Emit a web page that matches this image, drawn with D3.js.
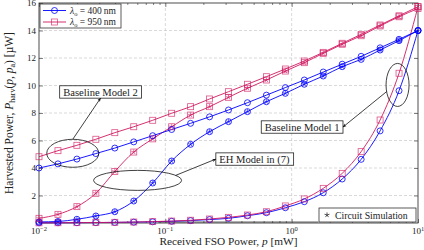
<!DOCTYPE html>
<html>
<head>
<meta charset="utf-8">
<script src="https://cdn.jsdelivr.net/npm/d3@7"></script>
<style>
body { margin: 0; background: #fff; }
svg text { font-family: "Liberation Serif", "DejaVu Serif", serif; fill: #222; }
</style>
</head>
<body>
<svg id="chart" width="424" height="250"></svg>
<script>
// received power p [mW], sampled on the log grid used by the figure
var pValues = [0.01, 0.01413, 0.01995, 0.02818, 0.03981, 0.05623, 0.07943, 0.1122, 0.1585, 0.2239,
               0.3162, 0.4467, 0.631, 0.8913, 1.259, 1.778, 2.512, 3.548, 5.012, 7.079, 10];

// Baseline Model 2
var bm2Blue = [4.0, 4.3, 4.65, 5.05, 5.45, 5.9, 6.35, 6.8, 7.25, 7.72, 8.22, 8.75, 9.3, 9.85, 10.4, 10.98, 11.55, 12.12, 12.74, 13.36, 14.0];
var bm2Red  = [4.82, 5.26, 5.65, 6.09, 6.57, 7.0, 7.47, 7.98, 8.46, 9.02, 9.55, 10.09, 10.64, 11.2, 11.78, 12.41, 13.07, 13.72, 14.4, 15.07, 15.73];
// EH model in (7) + circuit simulation
var ehBlue = [0.08, 0.11, 0.27, 0.51, 0.82, 1.6, 2.91, 4.51, 5.72, 6.64, 7.37, 8.1, 8.82, 9.43, 10.09, 10.69, 11.37, 11.9, 12.58, 13.26, 13.99];
var ehRed  = [0.34, 0.63, 1.19, 2.16, 3.75, 5.16, 6.12, 7.0, 7.85, 8.46, 9.14, 9.8, 10.4, 11.05, 11.66, 12.34, 13.0, 13.62, 14.33, 15.0, 15.6];
// Baseline Model 1
var bm1Blue = [0.011, 0.016, 0.022, 0.031, 0.044, 0.062, 0.088, 0.124, 0.175, 0.25, 0.34, 0.53, 0.75, 1.11, 1.55, 2.2, 3.2, 4.63, 6.7, 9.62, 14.0];
var bm1Red  = [0.013, 0.018, 0.025, 0.036, 0.05, 0.07, 0.1, 0.14, 0.2, 0.29, 0.41, 0.58, 0.82, 1.24, 1.75, 2.52, 3.61, 5.19, 7.49, 10.89, 15.73];

var xTicks = [0.01, 0.1, 1, 10];
var xTickExp = ["\u22122", "\u22121", "0", "1"];
var yTicks = [2, 4, 6, 8, 10, 12, 14, 16];
var legendLabels = ["400", "950"];

var blue = "#0000ff",
    red = "#d01860";

var svg = d3.select("#chart");
var mLeft = 39, mRight = 418, mTop = 3, mBottom = 223;

var x = d3.scaleLog().domain([0.01, 10]).range([mLeft, mRight]);
var y = d3.scaleLinear().domain([0, 16]).range([mBottom, mTop]);

// grid
var grid = svg.append("g").attr("stroke", "#c8c8c8").attr("stroke-dasharray", "3,2").attr("stroke-width", 0.7);
grid.selectAll(".gx").data([0.1, 1]).enter().append("line")
    .attr("x1", function(d){ return x(d); }).attr("x2", function(d){ return x(d); })
    .attr("y1", mTop).attr("y2", mBottom);
grid.selectAll(".gy").data(yTicks.slice(0, -1)).enter().append("line")
    .attr("x1", mLeft).attr("x2", mRight)
    .attr("y1", function(d){ return y(d); }).attr("y2", function(d){ return y(d); });

// gray strip along the bottom
svg.append("line")
    .attr("x1", x(0.088)).attr("x2", x(1.62))
    .attr("y1", mBottom - 1).attr("y2", mBottom - 1)
    .attr("stroke", "#b0b0b0").attr("stroke-width", 2.2);

// ticks (inside, all four sides)
var minor = [];
[0.01, 0.1, 1].forEach(function(d){ for (var m = 2; m < 10; m++) minor.push(d * m); });

svg.append("g").attr("transform", "translate(0," + mBottom + ")")
    .call(d3.axisBottom(x).tickValues(xTicks).tickSize(-4).tickFormat(""));
svg.append("g").attr("transform", "translate(0," + mBottom + ")")
    .call(d3.axisBottom(x).tickValues(minor).tickSize(-2).tickFormat(""));
svg.append("g").attr("transform", "translate(0," + mTop + ")")
    .call(d3.axisTop(x).tickValues(xTicks).tickSize(-4).tickFormat(""));
svg.append("g").attr("transform", "translate(0," + mTop + ")")
    .call(d3.axisTop(x).tickValues(minor).tickSize(-2).tickFormat(""));
svg.append("g").attr("transform", "translate(" + mLeft + ",0)")
    .call(d3.axisLeft(y).tickValues(yTicks).tickSize(-4).tickPadding(3));
svg.append("g").attr("transform", "translate(" + mRight + ",0)")
    .call(d3.axisRight(y).tickValues(yTicks).tickSize(-4).tickFormat(""));

svg.selectAll(".domain").remove();
svg.selectAll(".tick line").attr("stroke", "#333").attr("stroke-width", 0.6);
svg.selectAll(".tick text").style("font-family", "Liberation Serif").attr("font-size", 9).attr("fill", "#222");

// x tick labels 10^k
xTicks.forEach(function(d, i){
    var t = svg.append("text").attr("x", x(d)).attr("y", mBottom + 11)
        .attr("text-anchor", "middle").attr("font-size", 9);
    t.append("tspan").text("10");
    t.append("tspan").attr("dy", -3.5).attr("font-size", 6.5).text(xTickExp[i]);
});

// frame
svg.append("rect").attr("x", mLeft).attr("y", mTop)
    .attr("width", mRight - mLeft).attr("height", mBottom - mTop)
    .attr("fill", "none").attr("stroke", "#222").attr("stroke-width", 0.8);

// curves
var line = d3.line()
    .x(function(d){ return x(d[0]); })
    .y(function(d){ return y(d[1]); })
    .curve(d3.curveMonotoneX);

function pairs(vals) {
    return vals.map(function(v, i){ return [pValues[i], v]; });
}

function starPath(cx, cy, r) {
    var s = "";
    for (var k = 0; k < 5; k++) {
        var a = -Math.PI / 2 + k * 2 * Math.PI / 5;
        s += "M" + cx + "," + cy + "L" + (cx + r * Math.cos(a)) + "," + (cy + r * Math.sin(a));
    }
    return s;
}

function drawMarkers(g, pts, shape, color, star) {
    pts.forEach(function(p){
        var cx = x(p[0]), cy = y(p[1]);
        if (shape === "circle") {
            g.append("circle").attr("cx", cx).attr("cy", cy).attr("r", 3)
                .attr("fill", "none").attr("stroke", color).attr("stroke-width", 0.8);
        } else {
            g.append("rect").attr("x", cx - 3).attr("y", cy - 3).attr("width", 6).attr("height", 6)
                .attr("fill", "none").attr("stroke", color).attr("stroke-width", 0.8).attr("stroke-opacity", 0.75);
        }
        if (star) {
            g.append("path").attr("d", starPath(cx, cy, 2.6))
                .attr("stroke", color).attr("stroke-width", 0.6).attr("fill", "none");
        }
    });
}

var series = [
    {vals: bm1Blue, color: blue, shape: "circle", star: false},
    {vals: bm1Red, color: red, shape: "square", star: false},
    {vals: ehBlue, color: blue, shape: "circle", star: true},
    {vals: ehRed, color: red, shape: "square", star: true},
    {vals: bm2Blue, color: blue, shape: "circle", star: false},
    {vals: bm2Red, color: red, shape: "square", star: false}
];

var plot = svg.append("g");
series.forEach(function(s){
    plot.append("path").datum(pairs(s.vals)).attr("d", line)
        .attr("fill", "none").attr("stroke", s.color).attr("stroke-width", 0.9);
});
series.forEach(function(s){
    drawMarkers(plot, pairs(s.vals), s.shape, s.color, s.star);
});

// annotations
svg.append("defs").append("marker")
    .attr("id", "arrow").attr("viewBox", "0 0 10 10").attr("refX", 9).attr("refY", 5)
    .attr("markerWidth", 5).attr("markerHeight", 5).attr("orient", "auto")
    .append("path").attr("d", "M0,1L10,5L0,9L3,5Z").attr("fill", "#111");

var notes = [
    {text: "Baseline Model 2", bp: 0.0307, bv: 9.53, ep: 0.0185, ev: 5.07, rx: 26, ry: 14, ang: -90, side: "bottom"},
    {text: "Baseline Model 1", bp: 1.21, bv: 6.98, ep: 6.89, ev: 10.04, rx: 11.5, ry: 21.5, ang: 162, side: "right"},
    {text: "EH Model in (7)", bp: 0.508, bv: 4.65, ep: 0.0603, ev: 3.1, rx: 44, ry: 10, ang: -30, side: "left"}
];

notes.forEach(function(n){
    var cx = x(n.ep), cy = y(n.ev);
    svg.append("ellipse").attr("cx", cx).attr("cy", cy).attr("rx", n.rx).attr("ry", n.ry)
        .attr("fill", "none").attr("stroke", "#111").attr("stroke-width", 0.8);

    var g = svg.append("g");
    var t = g.append("text").attr("x", x(n.bp)).attr("y", y(n.bv) + 3.6)
        .attr("text-anchor", "middle").attr("font-size", 10.6).text(n.text);
    var bb = t.node().getBBox();
    g.insert("rect", "text").attr("x", bb.x - 3.5).attr("y", y(n.bv) - 6.2)
        .attr("width", bb.width + 7).attr("height", 12.4)
        .attr("fill", "#fff").attr("stroke", "#222").attr("stroke-width", 0.8);

    var a = n.ang * Math.PI / 180;
    var sx = cx + n.rx * Math.cos(a), sy = cy + n.ry * Math.sin(a);
    var ex, ey;
    if (n.side === "bottom") { ex = x(n.bp); ey = y(n.bv) + 6.2; }
    else if (n.side === "right") { ex = bb.x + bb.width + 3.5; ey = y(n.bv); }
    else { ex = bb.x - 3.5; ey = y(n.bv); }
    svg.append("line").attr("x1", sx).attr("y1", sy).attr("x2", ex).attr("y2", ey)
        .attr("stroke", "#111").attr("stroke-width", 0.8).attr("marker-end", "url(#arrow)");
});

// legend
var leg = svg.append("g");
leg.append("rect").attr("x", 40).attr("y", 4).attr("width", 81).attr("height", 24)
    .attr("fill", "#fff").attr("stroke", "#333").attr("stroke-width", 0.8);
[blue, red].forEach(function(c, i){
    var ly = 10.5 + i * 11.5;
    leg.append("line").attr("x1", 43).attr("x2", 66).attr("y1", ly).attr("y2", ly)
        .attr("stroke", c).attr("stroke-width", 0.9);
    if (i === 0) {
        leg.append("circle").attr("cx", 54.5).attr("cy", ly).attr("r", 3)
            .attr("fill", "none").attr("stroke", c).attr("stroke-width", 0.8);
    } else {
        leg.append("rect").attr("x", 51.5).attr("y", ly - 3).attr("width", 6).attr("height", 6)
            .attr("fill", "none").attr("stroke", c).attr("stroke-width", 0.8).attr("stroke-opacity", 0.75);
    }
    var t = leg.append("text").attr("x", 70).attr("y", ly + 3).attr("font-size", 9.5);
    t.append("tspan").attr("font-style", "italic").text("\u03bb");
    t.append("tspan").attr("dy", 2).attr("font-size", 6.5).text("o");
    t.append("tspan").attr("dy", -2).text(" = " + legendLabels[i] + "\u2009nm");
});

// circuit simulation key
var key = svg.append("g");
key.append("rect").attr("x", 319).attr("y", 208).attr("width", 97).attr("height", 14)
    .attr("fill", "#fff").attr("stroke", "#333").attr("stroke-width", 0.8);
key.append("path").attr("d", starPath(327, 215, 2.6)).attr("stroke", "#111").attr("stroke-width", 0.7);
key.append("text").attr("x", 335).attr("y", 218.5).attr("font-size", 9.8).text("Circuit Simulation");

// axis labels
var xl = svg.append("text").attr("x", (mLeft + mRight) / 2).attr("y", 245)
    .attr("text-anchor", "middle").attr("font-size", 11.3);
xl.append("tspan").text("Received FSO Power, ");
xl.append("tspan").attr("font-style", "italic").text("p");
xl.append("tspan").text(" [mW]");

var yl = svg.append("text").attr("transform", "translate(13," + ((mTop + mBottom) / 2) + ") rotate(-90)")
    .attr("text-anchor", "middle").attr("font-size", 11.5);
yl.append("tspan").text("Harvested Power, ");
yl.append("tspan").attr("font-style", "italic").text("P");
yl.append("tspan").attr("dy", 2).attr("font-size", 8).text("harv");
yl.append("tspan").attr("dy", -2).text("(");
yl.append("tspan").attr("font-style", "italic").text("p");
yl.append("tspan").text(", ");
yl.append("tspan").attr("font-style", "italic").text("p");
yl.append("tspan").attr("dy", 2).attr("font-size", 8).text("a");
yl.append("tspan").attr("dy", -2).text(") [\u00b5W]");
</script>
</body>
</html>
